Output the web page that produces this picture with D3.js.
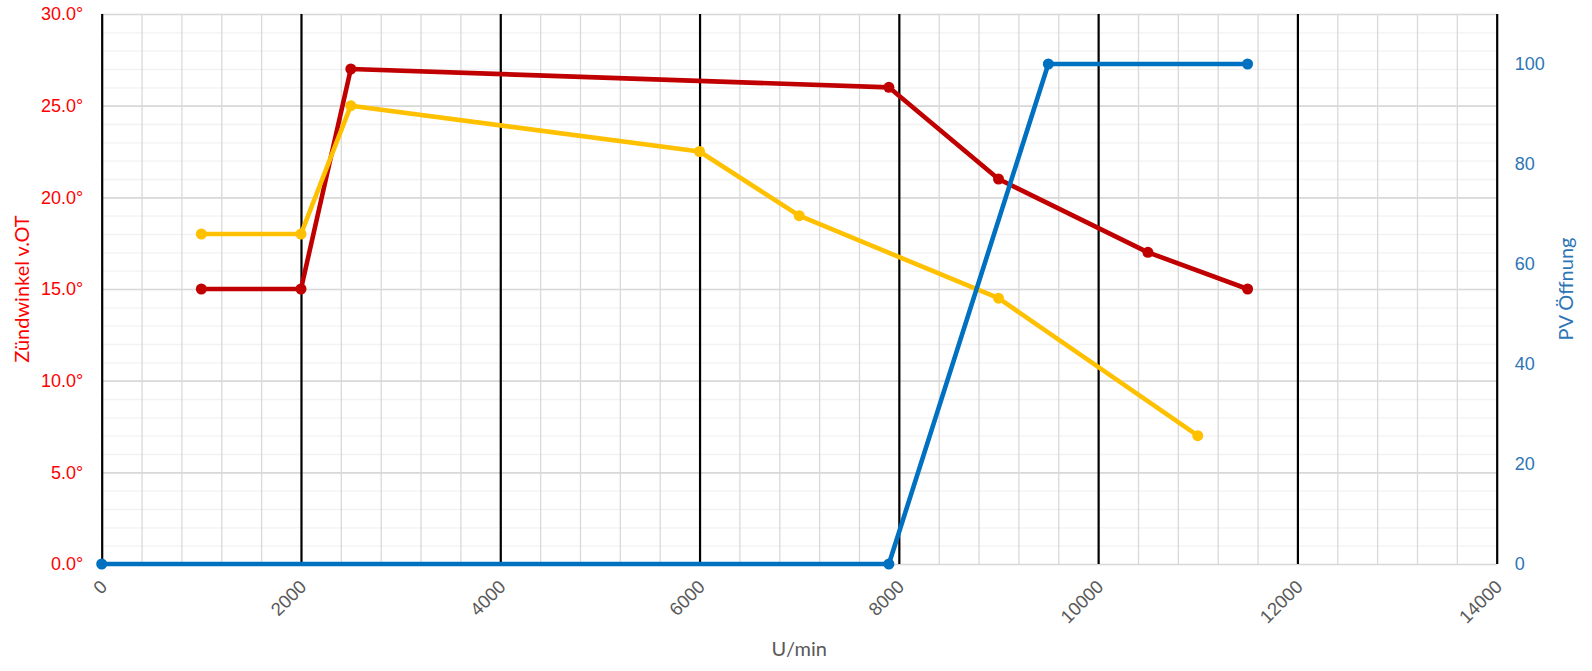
<!DOCTYPE html>
<html>
<head>
<meta charset="utf-8">
<script src="https://cdn.jsdelivr.net/npm/d3@7"></script>
<style>
  body { margin: 0; background: #fff; }
  svg { display: block; font-family: Lato, "Open Sans", sans-serif; }
  .domain { display: none; }
</style>
</head>
<body>
<script>
// x values (U/min) and y values per series
const redRpm = [1000, 2000, 2500, 7900, 9000, 10500, 11500];
const redDeg = [15, 15, 27, 26, 21, 17, 15];
const yellowRpm = [1000, 2000, 2500, 6000, 7000, 9000, 11000];
const yellowDeg = [18, 18, 25, 22.5, 19, 14.5, 7];
const blueRpm = [0, 7900, 9500, 11500];
const bluePct = [0, 0, 100, 100];

const xTicks = [0, 2000, 4000, 6000, 8000, 10000, 12000, 14000];
const leftTicks = [0, 5, 10, 15, 20, 25, 30];
const rightTicks = [0, 20, 40, 60, 80, 100];

const width = 1592, height = 671;
const plotLeft = 101.7, plotRight = 1496.7, plotTop = 14, plotBottom = 564;

const svg = d3.select("body").append("svg")
    .attr("width", width)
    .attr("height", height);

const x = d3.scaleLinear().domain([0, 14000]).range([plotLeft, plotRight]);
const yL = d3.scaleLinear().domain([0, 30]).range([plotBottom, plotTop]);
const yR = d3.scaleLinear().domain([0, 110]).range([plotBottom, plotTop]);

// minor horizontal grid every 1 degree
svg.append("g")
    .attr("transform", `translate(${plotLeft},0)`)
    .call(d3.axisLeft(yL).tickValues(d3.range(0, 31, 1)).tickSize(-(plotRight - plotLeft)).tickFormat(""))
    .selectAll("line").attr("stroke", "#f2f2f2").attr("stroke-width", 1.3);

// minor vertical grid every 400
svg.append("g")
    .attr("transform", `translate(0,${plotTop})`)
    .call(d3.axisTop(x).tickValues(d3.range(0, 14001, 400)).tickSize(-(plotBottom - plotTop)).tickFormat(""))
    .selectAll("line").attr("stroke", "#d9d9d9").attr("stroke-width", 1.3);

// major horizontal grid every 5 degrees
svg.append("g")
    .attr("transform", `translate(${plotLeft},0)`)
    .call(d3.axisLeft(yL).tickValues(leftTicks).tickSize(-(plotRight - plotLeft)).tickFormat(""))
    .selectAll("line").attr("stroke", "#d9d9d9").attr("stroke-width", 1.6);

// major vertical grid every 2000 (black)
svg.append("g")
    .attr("transform", `translate(0,${plotTop})`)
    .call(d3.axisTop(x).tickValues(xTicks).tickSize(-(plotBottom - plotTop)).tickFormat(""))
    .selectAll("line").attr("stroke", "#000").attr("stroke-width", 2.2);

// left axis labels
const gL = svg.append("g")
    .attr("transform", `translate(${plotLeft},0)`)
    .call(d3.axisLeft(yL).tickValues(leftTicks).tickSize(0).tickPadding(18.5)
        .tickFormat(d => d.toFixed(1) + "°"));
gL.selectAll("text").attr("fill", "#ff0000").style("font-size", "18px").attr("font-family", null);

// right axis labels
const gR = svg.append("g")
    .attr("transform", `translate(${plotRight},0)`)
    .call(d3.axisRight(yR).tickValues(rightTicks).tickSize(0).tickPadding(18));
gR.selectAll("text").attr("fill", "#2e75b6").style("font-size", "18px").attr("font-family", null);

// bottom axis labels, rotated
const gB = svg.append("g")
    .attr("transform", `translate(0,${plotBottom})`)
    .call(d3.axisBottom(x).tickValues(xTicks).tickSize(0).tickFormat(d3.format("d")));
gB.selectAll("text")
    .attr("fill", "#595959")
    .style("font-size", "18.5px")
    .attr("font-family", null)
    .attr("text-anchor", "end")
    .attr("dy", null)
    .attr("y", 0)
    .attr("transform", "translate(6,24) rotate(-45)");

// axis titles
svg.append("text")
    .attr("x", (plotLeft + plotRight) / 2).attr("y", 656)
    .attr("text-anchor", "middle")
    .attr("fill", "#595959").style("font-size", "20px")
    .text("U/min");

svg.append("text")
    .attr("transform", `translate(29,${(plotTop + plotBottom) / 2}) rotate(-90)`)
    .attr("text-anchor", "middle")
    .attr("fill", "#ff0000").style("font-size", "20px")
    .text("Zündwinkel v.OT");

svg.append("text")
    .attr("transform", `translate(1573,${(plotTop + plotBottom) / 2}) rotate(-90)`)
    .attr("text-anchor", "middle")
    .attr("fill", "#2e75b6").style("font-size", "20px")
    .text("PV Öffnung");

// series
const series = [
    { xs: redRpm, ys: redDeg, y: yL, color: "#c00000" },
    { xs: yellowRpm, ys: yellowDeg, y: yL, color: "#ffc000" },
    { xs: blueRpm, ys: bluePct, y: yR, color: "#0070c0" }
];

series.forEach(s => {
    const pts = s.xs.map((v, i) => [v, s.ys[i]]);
    const line = d3.line().x(d => x(d[0])).y(d => s.y(d[1]));
    svg.append("path")
        .datum(pts)
        .attr("fill", "none")
        .attr("stroke", s.color)
        .attr("stroke-width", 4.6)
        .attr("stroke-linejoin", "round")
        .attr("d", line);
    svg.append("g").selectAll("circle")
        .data(pts)
        .enter()
        .append("circle")
        .attr("cx", d => x(d[0]))
        .attr("cy", d => s.y(d[1]))
        .attr("r", 5.5)
        .attr("fill", s.color);
});
</script>
</body>
</html>
